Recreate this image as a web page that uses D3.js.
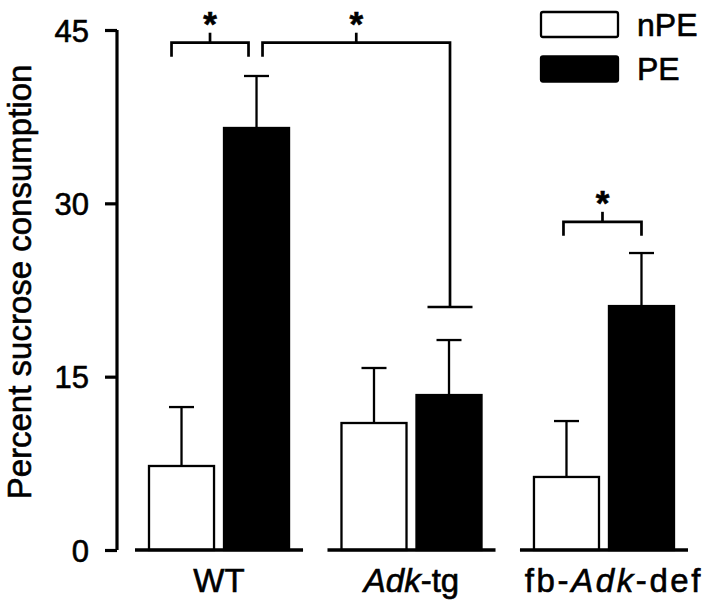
<!DOCTYPE html>
<html><head><meta charset="utf-8">
<script src="https://cdn.jsdelivr.net/npm/d3@7"></script>
<style>body{margin:0;background:#fff}svg{display:block}text{font-family:"Liberation Sans",Arial,Helvetica,sans-serif}</style>
</head><body><svg id="c" width="711" height="602"></svg>
<script>
const groups = ["WT", "Adk-tg", "fb-Adk-def"];
const series = ["nPE", "PE"];
const nPEMean = [7.27, 10.99, 6.32];
const nPESem  = [5.10, 4.76, 4.84];
const PEMean  = [36.52, 13.41, 21.11];
const PESem   = [4.50, 4.76, 4.59];
const yTicks  = [0, 15, 30, 45];
const yLabel  = "Percent sucrose consumption";
// significance brackets: [group, series] endpoints, bracket height in data units
const brackets = [
  {a:[0,"nPE"], b:[0,"PE"], y:43.9, end:null},
  {a:[0,"PE"],  b:[1,"PE"], y:43.9, end:21.03},
  {a:[2,"nPE"], b:[2,"PE"], y:28.4, end:null}
];

const svg = d3.select("#c");
const y = d3.scaleLinear().domain([0,45]).range([550,30]);
const x0 = d3.scaleBand().domain(groups).range([135,688]).paddingInner(0.127).paddingOuter(0);
const x1 = d3.scaleBand().domain(series).range([14, x0.bandwidth()-14]).paddingInner(0.133);
const fill = {nPE:"#fff", PE:"#000"};
const data = [];
groups.forEach((g,i)=>{
  data.push({g, s:"nPE", m:nPEMean[i], e:nPESem[i]});
  data.push({g, s:"PE", m:PEMean[i], e:PESem[i]});
});
const cx = (gi,s)=> x0(groups[gi]) + x1(s) + x1.bandwidth()/2;
const heavy = sel => sel.attr("stroke","#000").attr("stroke-width",0.6).attr("fill","#000");

// y axis
const ax = svg.append("g").attr("transform","translate(117,0)")
  .call(d3.axisLeft(y).tickValues(yTicks).tickSize(12).tickSizeOuter(0).tickPadding(16));
ax.select(".domain").attr("stroke","#000").attr("stroke-width",3.2).attr("d","M0,"+y(45)+"V"+y(0));
ax.selectAll(".tick line").attr("stroke","#000").attr("stroke-width",3.2);
ax.selectAll(".tick text").attr("font-size",31).attr("dy","0.36em")
  .attr("font-family",'"Liberation Sans",Arial,sans-serif').call(heavy);

svg.append("text").attr("transform","translate(31,"+282+") rotate(-90)")
  .attr("text-anchor","middle").attr("font-size",33).text(yLabel).call(heavy);

// error bars (drawn first so bar covers stem)
const eb = svg.append("g").attr("stroke","#000").attr("stroke-width",2.3);
data.forEach(d=>{
  const c = x0(d.g)+x1(d.s)+x1.bandwidth()/2;
  eb.append("line").attr("x1",c).attr("x2",c).attr("y1",y(d.m)).attr("y2",y(d.m+d.e));
  eb.append("line").attr("x1",c-12.5).attr("x2",c+12.5).attr("y1",y(d.m+d.e)).attr("y2",y(d.m+d.e));
});

// bars
svg.append("g").selectAll("rect").data(data).join("rect")
  .attr("x",d=>x0(d.g)+x1(d.s)).attr("width",x1.bandwidth())
  .attr("y",d=>y(d.m)).attr("height",d=>y(0)-y(d.m))
  .attr("fill",d=>fill[d.s]).attr("stroke","#000").attr("stroke-width",2.3);

// baselines per group
svg.append("g").selectAll("line").data(groups).join("line")
  .attr("x1",g=>x0(g)).attr("x2",g=>x0(g)+x0.bandwidth())
  .attr("y1",y(0)).attr("y2",y(0)).attr("stroke","#000").attr("stroke-width",3.4);

// group labels
const gl = svg.append("g").attr("font-size",33).attr("text-anchor","middle");
const parts = [[["WT",false]],[["Adk",true],["-tg",false]],[["fb-",false],["Adk",true],["-def",false]]];
groups.forEach((g,i)=>{
  const t = gl.append("text").attr("x",x0(g)+x0.bandwidth()/2+(i===2?10:0)).attr("y",592)
    .attr("letter-spacing", i===2 ? 2.6 : 0).call(heavy);
  parts[i].forEach(p=>t.append("tspan").attr("font-style",p[1]?"italic":"normal").text(p[0]));
});

// brackets
const offs = [[-10,-8],[6,1],[-3,0]];
const bg = svg.append("g").attr("stroke","#000").attr("stroke-width",2.7).attr("fill","none");
brackets.forEach((b,i)=>{
  const xa = cx(b.a[0],b.a[1])+offs[i][0], xb = cx(b.b[0],b.b[1])+offs[i][1];
  const yy = y(b.y);
  const yb = b.end==null ? yy+14 : y(b.end);
  bg.append("path").attr("d",`M${xa},${yy+14}V${yy}H${xb}V${yb}`);
  if(b.end!=null) bg.append("line").attr("x1",xb-22.5).attr("x2",xb+22.5).attr("y1",yb).attr("y2",yb);
  const xm=(xa+xb)/2;
  bg.append("line").attr("x1",xm).attr("x2",xm).attr("y1",yy).attr("y2",yy-10);
  svg.append("text").attr("x",xm).attr("y",yy-6.5).attr("text-anchor","middle")
    .attr("font-weight","bold").attr("font-size",35).text("*").call(heavy);
});

// legend
const lg = svg.append("g");
series.forEach((s,i)=>{
  lg.append("rect").attr("x",541).attr("y",12+i*44.5).attr("width",77).attr("height",25).attr("rx",2)
    .attr("fill",fill[s]).attr("stroke","#000").attr("stroke-width",2.3);
  lg.append("text").attr("x",637).attr("y",36+i*44).attr("font-size",32).text(s).call(heavy);
});
</script></body></html>
